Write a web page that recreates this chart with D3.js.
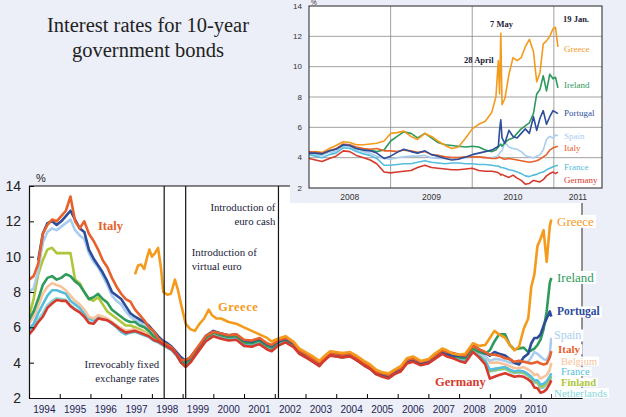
<!DOCTYPE html>
<html>
<head>
<meta charset="utf-8">
<style>
  body { margin: 0; background: #eceef8; }
  svg { display: block; }
  text { font-family: "Liberation Serif", "Times New Roman", serif; }
  .num { font-family: "Liberation Sans", Arial, sans-serif; }
</style>
</head>
<body>
<svg id="chart"></svg>
<script src="https://d3js.org/d3.v7.min.js"></script>
<script>

  // ---- data: main chart (1994-2010) ----
  var earlyYears = [1994.0, 1994.15, 1994.3, 1994.45, 1994.6, 1994.75, 1994.9,
    1995.05, 1995.2, 1995.35, 1995.5, 1995.65, 1995.8, 1995.95,
    1996.1, 1996.25, 1996.4, 1996.55, 1996.7, 1996.85,
    1997.0, 1997.15, 1997.3, 1997.45, 1997.6, 1997.75, 1997.9,
    1998.05, 1998.2, 1998.35, 1998.5, 1998.65, 1998.8, 1998.95];

  var euroYears = [1999.1, 1999.25, 1999.5, 1999.75, 2000.0, 2000.25, 2000.5, 2000.75,
    2001.0, 2001.25, 2001.5, 2001.75, 2001.9, 2002.1, 2002.35, 2002.6, 2002.8,
    2003.0, 2003.2, 2003.45, 2003.6, 2003.8, 2004.0, 2004.2, 2004.45, 2004.7, 2004.9,
    2005.1, 2005.3, 2005.5, 2005.7, 2005.9, 2006.1, 2006.3, 2006.5, 2006.75,
    2007.0, 2007.2, 2007.45, 2007.6, 2007.8];

  var lateYears = [2008.0, 2008.2, 2008.45, 2008.65, 2008.85, 2009.0, 2009.15, 2009.3,
    2009.5, 2009.65, 2009.8, 2009.95, 2010.1, 2010.25, 2010.35, 2010.45, 2010.55,
    2010.65, 2010.75, 2010.85, 2010.95, 2011.0];

  var germanyEarly = [5.6, 5.9, 6.3, 6.6, 7.1, 7.35, 7.55, 7.5, 7.5, 7.2, 7.0, 6.85, 6.6, 6.25,
    6.2, 6.5, 6.45, 6.4, 6.25, 6.05, 5.85, 5.7, 5.75, 5.8, 5.7, 5.6, 5.5,
    5.3, 5.2, 5.05, 4.9, 4.75, 4.45, 4.0];
  var italyEarly = [8.7, 8.9, 9.6, 11.3, 11.8, 12.1, 12.0, 12.3, 12.6, 13.4, 12.0, 11.6, 12.0, 11.3,
    10.9, 10.4, 9.8, 9.4, 8.8, 8.3, 7.9, 7.6, 7.45, 7.0, 6.7, 6.4, 6.0,
    5.8, 5.4, 5.15, 5.0, 4.85, 4.5, 4.15];
  var portugalEarly = [null, null, 9.8, 11.3, 11.9, 12.0, 11.8, 12.0, 12.3, 12.6, 12.1, 11.6, 11.4, 10.4,
    9.9, 9.5, 9.1, 8.6, 8.0, 7.8, 7.6, 7.2, 6.8, 6.6, 6.45, 6.3, 6.1,
    5.8, 5.5, 5.25, 5.1, 4.9, 4.6, 4.3];
  var spainEarly = [8.0, 8.2, 9.2, 10.8, 11.4, 11.6, 11.5, 11.7, 11.9, 12.1, 11.5, 11.2, 11.0, 10.2,
    9.7, 9.4, 8.9, 8.4, 7.8, 7.5, 7.3, 6.9, 6.6, 6.4, 6.3, 6.1, 5.9,
    5.6, 5.4, 5.15, 5.0, 4.8, 4.5, 4.15];
  var finlandEarly = [6.6, 7.6, 9.0, 9.8, 10.4, 10.5, 10.2, 10.2, 10.2, 10.2, 8.7, 8.5, 8.0, 7.6,
    7.5, 7.7, 7.3, 6.9, 6.7, 6.5, 6.3, 6.1, 6.1, 6.0, 5.9, 5.75, 5.6,
    5.35, 5.25, 5.1, 4.95, 4.8, 4.5, 4.05];
  var irelandEarly = [6.4, 6.9, 7.6, 8.4, 8.8, 8.9, 8.7, 8.8, 9.0, 8.9, 8.6, 8.4, 8.0, 7.6,
    7.7, 7.9, 7.6, 7.4, 7.0, 6.8, 6.6, 6.4, 6.3, 6.3, 6.1, 6.0, 5.8,
    5.5, 5.35, 5.15, 5.0, 4.85, 4.5, 4.05];
  var belgiumEarly = [6.2, 6.6, 7.2, 7.9, 8.3, 8.5, 8.4, 8.3, 8.1, 7.8, 7.5, 7.3, 7.0, 6.6,
    6.5, 6.7, 6.6, 6.5, 6.3, 6.1, 5.95, 5.8, 5.85, 5.9, 5.8, 5.7, 5.55,
    5.35, 5.25, 5.1, 4.95, 4.8, 4.5, 4.05];
  var franceEarly = [5.9, 6.2, 6.8, 7.3, 7.8, 8.1, 8.1, 8.0, 7.9, 7.5, 7.3, 7.1, 6.8, 6.5,
    6.4, 6.6, 6.5, 6.4, 6.2, 6.0, 5.75, 5.6, 5.7, 5.75, 5.65, 5.55, 5.45,
    5.25, 5.15, 5.0, 4.85, 4.7, 4.4, 4.0];
  var netherlandsEarly = [5.7, 6.0, 6.45, 6.8, 7.25, 7.5, 7.65, 7.6, 7.55, 7.25, 7.05, 6.9, 6.65, 6.3,
    6.25, 6.55, 6.5, 6.45, 6.3, 6.1, 5.9, 5.75, 5.8, 5.85, 5.75, 5.65, 5.55,
    5.35, 5.25, 5.1, 4.95, 4.8, 4.5, 4.05];

  var germanyEuro = [3.75, 4.0, 4.6, 5.2, 5.5, 5.35, 5.25, 5.3, 4.95, 4.9, 5.05, 4.75, 4.65, 4.95, 5.15,
    4.9, 4.5, 4.3, 4.1, 3.8, 4.1, 4.4, 4.35, 4.3, 4.35, 4.1, 3.85, 3.65, 3.35, 3.2,
    3.1, 3.35, 3.5, 3.95, 4.05, 3.85, 3.95, 4.2, 4.5, 4.35, 4.25];
  var italyEuro = [4.15, 4.3, 4.9, 5.5, 5.75, 5.65, 5.55, 5.6, 5.3, 5.25, 5.4, 5.1, 5.0, 5.25, 5.4,
    5.15, 4.7, 4.5, 4.25, 4.0, 4.25, 4.55, 4.5, 4.45, 4.5, 4.25, 4.0, 3.8, 3.5, 3.4,
    3.3, 3.55, 3.7, 4.15, 4.25, 4.05, 4.15, 4.4, 4.7, 4.6, 4.55];
  var portugalEuro = [4.1, 4.3, 4.85, 5.5, 5.8, 5.65, 5.55, 5.6, 5.25, 5.2, 5.35, 5.05, 4.95, 5.2, 5.35,
    5.1, 4.65, 4.45, 4.2, 3.9, 4.2, 4.5, 4.45, 4.4, 4.45, 4.2, 3.95, 3.75, 3.45, 3.3,
    3.2, 3.45, 3.6, 4.05, 4.15, 3.95, 4.05, 4.3, 4.6, 4.5, 4.4];
  var spainEuro = [4.0, 4.2, 4.8, 5.45, 5.7, 5.6, 5.5, 5.55, 5.2, 5.15, 5.3, 5.0, 4.9, 5.15, 5.3,
    5.05, 4.6, 4.4, 4.15, 3.85, 4.15, 4.45, 4.4, 4.35, 4.4, 4.15, 3.9, 3.7, 3.4, 3.25,
    3.15, 3.4, 3.55, 4.0, 4.1, 3.9, 4.0, 4.25, 4.55, 4.45, 4.35];
  var irelandEuro = [3.95, 4.15, 4.75, 5.4, 5.7, 5.55, 5.45, 5.5, 5.15, 5.1, 5.25, 4.95, 4.85, 5.15, 5.3,
    5.05, 4.6, 4.35, 4.1, 3.85, 4.15, 4.45, 4.35, 4.3, 4.4, 4.1, 3.85, 3.65, 3.35, 3.25,
    3.15, 3.4, 3.55, 4.0, 4.1, 3.9, 4.0, 4.25, 4.55, 4.45, 4.35];
  var belgiumEuro = [3.95, 4.15, 4.75, 5.4, 5.7, 5.55, 5.45, 5.5, 5.15, 5.1, 5.25, 4.95, 4.85, 5.15, 5.3,
    5.05, 4.6, 4.4, 4.15, 3.85, 4.15, 4.45, 4.4, 4.35, 4.4, 4.15, 3.9, 3.7, 3.4, 3.25,
    3.15, 3.4, 3.55, 4.0, 4.1, 3.9, 4.0, 4.25, 4.55, 4.45, 4.35];
  var franceEuro = [3.85, 4.1, 4.7, 5.3, 5.6, 5.45, 5.35, 5.4, 5.05, 5.0, 5.15, 4.85, 4.75, 5.05, 5.25,
    5.0, 4.55, 4.35, 4.15, 3.85, 4.15, 4.45, 4.4, 4.35, 4.4, 4.15, 3.9, 3.7, 3.4, 3.25,
    3.15, 3.4, 3.55, 4.0, 4.1, 3.9, 4.0, 4.25, 4.55, 4.4, 4.3];
  var finlandEuro = [3.9, 4.1, 4.7, 5.35, 5.65, 5.5, 5.4, 5.45, 5.1, 5.05, 5.2, 4.9, 4.8, 5.1, 5.25,
    5.0, 4.55, 4.35, 4.15, 3.85, 4.15, 4.45, 4.4, 4.35, 4.4, 4.15, 3.9, 3.7, 3.4, 3.25,
    3.15, 3.4, 3.55, 4.0, 4.1, 3.9, 4.0, 4.25, 4.55, 4.4, 4.3];
  var netherlandsEuro = [3.85, 4.05, 4.65, 5.3, 5.6, 5.45, 5.35, 5.4, 5.05, 5.0, 5.15, 4.85, 4.75, 5.05, 5.25,
    4.95, 4.55, 4.35, 4.15, 3.85, 4.15, 4.45, 4.4, 4.35, 4.4, 4.15, 3.9, 3.7, 3.4, 3.25,
    3.15, 3.4, 3.55, 4.0, 4.1, 3.9, 4.0, 4.25, 4.55, 4.4, 4.3];

  // Greece joins the chart in 1997
  var greeceYears = [1997.45, 1997.55, 1997.65, 1997.75, 1997.85, 1997.92, 1998.0, 1998.1, 1998.2, 1998.3,
    1998.37, 1998.5, 1998.62, 1998.75, 1998.85, 1998.95, 1999.1, 1999.25, 1999.4, 1999.55,
    1999.7, 1999.85, 1999.95, 2000.1, 2000.25, 2000.5, 2000.75, 2001.0, 2001.25, 2001.5,
    2001.75, 2001.9, 2002.1, 2002.35, 2002.6, 2002.8, 2003.0, 2003.2, 2003.45, 2003.6,
    2003.8, 2004.0, 2004.2, 2004.45, 2004.7, 2004.9, 2005.1, 2005.3, 2005.5, 2005.7,
    2005.9, 2006.1, 2006.3, 2006.5, 2006.75, 2007.0, 2007.2, 2007.45, 2007.6, 2007.8];
  var greeceEarly = [9.0, 9.5, 9.55, 9.3, 10.0, 10.4, 10.0, 10.2, 10.5, 9.3,
    8.0, 7.85, 7.9, 8.7, 8.1, 7.3, 6.2, 5.9, 5.8, 6.2,
    6.5, 7.0, 6.7, 6.5, 6.5, 6.3, 6.2, 6.0, 5.8, 5.6,
    5.4, 5.2, 5.35, 5.5, 5.2, 4.8, 4.6, 4.4, 4.1, 4.35,
    4.65, 4.6, 4.55, 4.6, 4.35, 4.1, 3.9, 3.6, 3.45, 3.4,
    3.6, 3.8, 4.25, 4.35, 4.1, 4.2, 4.5, 4.8, 4.7, 4.5];

  var greeceLate = [4.45, 4.5, 5.1, 4.95, 5.0, 5.4, 5.8, 5.6, 5.4, 5.0, 4.7, 4.9, 5.9, 6.5, 8.3,
    9.0, 10.6, 11.0, 11.5, 9.7, 11.7, 12.1];
  var irelandLate = [4.3, 4.25, 4.8, 4.6, 4.5, 4.7, 5.2, 5.6, 5.6, 5.0, 4.75, 4.8, 4.85, 4.6, 4.7,
    4.8, 5.0, 5.3, 5.9, 6.9, 8.5, 8.8];
  var portugalLate = [4.4, 4.35, 5.0, 4.75, 4.55, 4.4, 4.6, 4.5, 4.4, 4.2, 4.0, 3.9, 4.3, 4.5, 5.1,
    5.4, 5.4, 5.6, 6.1, 6.5, 6.9, 6.6];
  var spainLate = [4.3, 4.25, 4.85, 4.6, 4.35, 4.1, 4.2, 4.2, 4.1, 4.0, 3.95, 4.0, 4.05, 4.05, 4.3,
    4.6, 4.5, 4.35, 4.2, 4.15, 4.5, 5.4];
  var italyLate = [4.45, 4.4, 4.95, 4.75, 4.6, 4.45, 4.45, 4.4, 4.25, 4.2, 4.05, 4.1, 4.05, 4.0, 3.95,
    4.0, 4.05, 3.95, 3.9, 3.95, 4.3, 4.65];
  var belgiumLate = [4.35, 4.3, 4.8, 4.55, 4.4, 4.0, 4.0, 4.0, 3.9, 3.8, 3.7, 3.7, 3.75, 3.6, 3.5,
    3.3, 3.35, 3.1, 3.2, 3.3, 3.6, 4.0];
  var franceLate = [4.2, 4.1, 4.7, 4.4, 4.1, 3.6, 3.65, 3.7, 3.75, 3.6, 3.5, 3.55, 3.5, 3.35, 3.2,
    3.0, 3.0, 2.75, 2.8, 2.95, 3.2, 3.4];
  var finlandLate = [4.25, 4.15, 4.7, 4.45, 4.1, 3.55, 3.6, 3.65, 3.7, 3.55, 3.45, 3.5, 3.45, 3.3, 3.15,
    2.95, 2.9, 2.65, 2.7, 2.85, 3.1, 3.25];
  var netherlandsLate = [4.2, 4.1, 4.65, 4.4, 4.05, 3.5, 3.55, 3.6, 3.65, 3.5, 3.4, 3.45, 3.4, 3.25, 3.1,
    2.85, 2.85, 2.55, 2.6, 2.75, 3.0, 3.15];
  var germanyLate = [4.1, 4.0, 4.6, 4.3, 3.9, 3.1, 3.2, 3.3, 3.4, 3.3, 3.2, 3.25, 3.2, 3.05, 2.9,
    2.6, 2.55, 2.3, 2.35, 2.5, 2.8, 3.0];

  // ---- data: inset (2008 - 19 Jan. 2011) ----
  var insetYears = [2008.0, 2008.08, 2008.16, 2008.25, 2008.33, 2008.42, 2008.5, 2008.58, 2008.67, 2008.75,
    2008.83, 2008.92, 2009.0, 2009.08, 2009.16, 2009.25, 2009.33, 2009.42, 2009.5, 2009.58,
    2009.67, 2009.75, 2009.83, 2009.92, 2010.0, 2010.08, 2010.16, 2010.24, 2010.29, 2010.32,
    2010.335, 2010.35, 2010.365, 2010.4, 2010.45, 2010.5, 2010.55, 2010.6, 2010.65, 2010.7,
    2010.75, 2010.79, 2010.83, 2010.87, 2010.91, 2010.95, 2010.99, 2011.02, 2011.05];

  var greeceInset = [4.35, 4.4, 4.35, 4.6, 4.8, 5.05, 5.0, 4.85, 4.85, 4.9,
    4.95, 5.1, 5.6, 5.65, 5.75, 5.4, 5.2, 5.6, 5.4, 5.1,
    4.8, 4.6, 4.7, 5.3, 5.9, 6.2, 6.4, 7.0, 8.0, 10.4,
    8.2, 12.2, 7.5, 7.9, 9.5, 10.6, 10.4, 10.6, 11.3, 11.8,
    11.0, 9.0, 9.6, 11.5, 11.7, 12.0, 12.5, 12.6, 11.3];
  var irelandInset = [4.35, 4.3, 4.25, 4.45, 4.55, 4.85, 4.8, 4.6, 4.5, 4.5,
    4.4, 4.5, 5.1, 5.4, 5.7, 5.6, 5.3, 5.6, 5.3, 5.0,
    4.85, 4.8, 4.75, 4.7, 4.75, 4.7, 4.5, 4.4, 4.5, 4.7,
    4.8, 4.9, 4.75, 5.0, 5.2, 5.3, 5.6, 5.9, 6.1, 6.3,
    6.9, 8.2, 8.5, 9.4, 8.4, 9.5, 9.2, 9.3, 8.6];
  var portugalInset = [4.3, 4.3, 4.25, 4.45, 4.55, 4.85, 4.8, 4.6, 4.5, 4.45,
    4.3, 3.95, 4.1, 4.35, 4.55, 4.4, 4.3, 4.45, 4.2, 4.1,
    3.95, 3.85, 3.9, 4.05, 4.2, 4.3, 4.4, 4.5, 4.65, 4.75,
    5.8, 6.5, 5.3, 4.95, 5.8, 5.4, 5.3, 5.6, 5.9, 5.6,
    6.7, 5.8, 6.6, 7.1, 6.2, 6.7, 7.1, 7.0, 6.9];
  var spainInset = [4.3, 4.2, 4.15, 4.35, 4.4, 4.75, 4.7, 4.5, 4.4, 4.3,
    4.1, 3.95, 3.9, 4.0, 4.05, 4.1, 4.1, 4.15, 4.0, 3.95,
    3.95, 4.0, 4.0, 4.0, 4.05, 4.05, 4.0, 4.0, 4.05, 4.15,
    4.3, 4.4, 4.45, 5.0, 4.7, 4.6, 4.55, 4.4, 4.15, 4.05,
    4.0, 4.1, 4.2, 4.5, 5.2, 5.4, 5.3, 5.5, 5.45];
  var italyInset = [4.4, 4.35, 4.3, 4.45, 4.6, 4.9, 4.85, 4.7, 4.6, 4.55,
    4.6, 4.45, 4.45, 4.4, 4.5, 4.45, 4.35, 4.4, 4.2, 4.15,
    4.05, 4.0, 4.0, 4.05, 4.05, 4.05, 4.0, 3.95, 3.95, 4.0,
    4.05, 4.0, 3.95, 3.9, 3.95, 3.9, 3.85, 3.8, 3.75, 3.7,
    3.75, 3.8, 3.9, 4.05, 4.2, 4.5, 4.65, 4.7, 4.75];
  var franceInset = [4.2, 4.1, 4.0, 4.2, 4.3, 4.65, 4.6, 4.4, 4.25, 4.15,
    3.95, 3.5, 3.5, 3.55, 3.6, 3.6, 3.7, 3.8, 3.7, 3.65,
    3.6, 3.65, 3.65, 3.6, 3.6, 3.55, 3.55, 3.5, 3.45, 3.45,
    3.4, 3.35, 3.35, 3.3, 3.2, 3.15, 3.05, 2.95, 2.8, 2.75,
    2.85, 2.9, 3.0, 3.05, 3.2, 3.3, 3.4, 3.45, 3.5];
  var germanyInset = [3.95, 3.85, 3.75, 3.95, 4.1, 4.45, 4.4, 4.15, 4.0, 3.85,
    3.6, 3.05, 3.0, 3.05, 3.1, 3.15, 3.35, 3.5, 3.35, 3.3,
    3.25, 3.2, 3.2, 3.25, 3.3, 3.15, 3.1, 3.1, 3.05, 3.0,
    2.95, 2.85, 2.9, 2.8, 2.7, 2.85, 2.65, 2.5, 2.25, 2.3,
    2.5, 2.45, 2.4, 2.55, 2.8, 2.95, 3.05, 2.95, 3.05];

  var yTicks = [2, 4, 6, 8, 10, 12, 14];
  var yearTicks = d3.range(1994, 2011);
  var insetYearTicks = [2008, 2009, 2010, 2011];
  var eventYears = [1998.4, 1999.1, 2002.12];

  var colors = {
    Greece: "#f49a1c", Ireland: "#2e9a5c", Portugal: "#2c4d9c", Spain: "#a9cdef",
    Italy: "#e8602a", Belgium: "#f6c39c", France: "#55bedc", Finland: "#adc63a",
    Netherlands: "#86d6da", Germany: "#d63a2c"
  };

  function pairs(years, values) {
    return years.map(function(yr, i) { return {year: yr, value: values[i]}; })
      .filter(function(d) { return d.value != null; });
  }

  // drawing order: last is on top
  var mainSeries = [
    {name: "Netherlands", data: pairs(earlyYears, netherlandsEarly).concat(pairs(euroYears, netherlandsEuro), pairs(lateYears, netherlandsLate))},
    {name: "Finland", data: pairs(earlyYears, finlandEarly).concat(pairs(euroYears, finlandEuro), pairs(lateYears, finlandLate))},
    {name: "France", data: pairs(earlyYears, franceEarly).concat(pairs(euroYears, franceEuro), pairs(lateYears, franceLate))},
    {name: "Belgium", data: pairs(earlyYears, belgiumEarly).concat(pairs(euroYears, belgiumEuro), pairs(lateYears, belgiumLate))},
    {name: "Spain", data: pairs(earlyYears, spainEarly).concat(pairs(euroYears, spainEuro), pairs(lateYears, spainLate))},
    {name: "Ireland", data: pairs(earlyYears, irelandEarly).concat(pairs(euroYears, irelandEuro), pairs(lateYears, irelandLate))},
    {name: "Portugal", data: pairs(earlyYears, portugalEarly).concat(pairs(euroYears, portugalEuro), pairs(lateYears, portugalLate))},
    {name: "Italy", data: pairs(earlyYears, italyEarly).concat(pairs(euroYears, italyEuro), pairs(lateYears, italyLate))},
    {name: "Greece", data: pairs(greeceYears, greeceEarly).concat(pairs(lateYears, greeceLate))},
    {name: "Germany", data: pairs(earlyYears, germanyEarly).concat(pairs(euroYears, germanyEuro), pairs(lateYears, germanyLate))}
  ];

  var insetSeries = [
    {name: "Spain", data: pairs(insetYears, spainInset)},
    {name: "Ireland", data: pairs(insetYears, irelandInset)},
    {name: "Greece", data: pairs(insetYears, greeceInset)},
    {name: "Italy", data: pairs(insetYears, italyInset)},
    {name: "Portugal", data: pairs(insetYears, portugalInset)},
    {name: "France", data: pairs(insetYears, franceInset)},
    {name: "Germany", data: pairs(insetYears, germanyInset)}
  ];

  var svg = d3.select("#chart")
    .attr("width", 626)
    .attr("height", 417);

  // ---- title ----
  svg.append("text")
    .attr("x", 148).attr("y", 32)
    .attr("text-anchor", "middle")
    .attr("font-size", 20.5).attr("fill", "#222")
    .text("Interest rates for 10-year");
  svg.append("text")
    .attr("x", 148).attr("y", 57)
    .attr("text-anchor", "middle")
    .attr("font-size", 20.5).attr("fill", "#222")
    .text("government bonds");

  // ---- main chart ----
  var x = d3.scaleLinear().domain([1994, 2012]).range([29, 582]);
  var y = d3.scaleLinear().domain([2, 14]).range([398, 186]);

  svg.append("rect")
    .attr("x", x(1994)).attr("y", y(14))
    .attr("width", x(2012) - x(1994)).attr("height", y(2) - y(14))
    .attr("fill", "#fff");

  svg.append("clipPath").attr("id", "mainclip")
    .append("rect")
    .attr("x", x(1994)).attr("y", y(14))
    .attr("width", x(2012) - x(1994)).attr("height", y(2) - y(14));

  var line = d3.line()
    .x(function(d) { return x(d.year); })
    .y(function(d) { return y(d.value); });

  svg.append("g").attr("clip-path", "url(#mainclip)")
    .selectAll("path")
    .data(mainSeries)
    .enter().append("path")
    .attr("d", function(d) { return line(d.data); })
    .attr("fill", "none")
    .attr("stroke", function(d) { return colors[d.name]; })
    .attr("stroke-width", 2.6)
    .attr("stroke-linejoin", "round");

  // event lines
  svg.selectAll(".event")
    .data(eventYears)
    .enter().append("line")
    .attr("class", "event")
    .attr("x1", function(d) { return x(d); })
    .attr("x2", function(d) { return x(d); })
    .attr("y1", y(14)).attr("y2", y(2))
    .attr("stroke", "#111").attr("stroke-width", 1.2);

  // axes
  var yAxis = d3.axisLeft(y).tickValues(yTicks).tickSize(-5).tickSizeOuter(0).tickPadding(8);
  var gy = svg.append("g").attr("transform", "translate(" + x(1994) + ",0)").call(yAxis);
  gy.selectAll("text").attr("class", "num").attr("font-size", 14).attr("fill", "#222");
  gy.select(".domain").attr("stroke", "#111").attr("stroke-width", 1.2);

  var xAxis = d3.axisBottom(x).tickValues(d3.range(1994, 2012)).tickSize(-4).tickSizeOuter(0).tickFormat("");
  var gx = svg.append("g").attr("transform", "translate(0," + y(2) + ")").call(xAxis);
  gx.select(".domain").attr("stroke", "#111").attr("stroke-width", 1.2);

  svg.selectAll(".year")
    .data(yearTicks)
    .enter().append("text")
    .attr("class", "num")
    .attr("x", function(d) { return x(d + 0.5); })
    .attr("y", 413)
    .attr("text-anchor", "middle")
    .attr("font-size", 10).attr("fill", "#1e2451")
    .text(function(d) { return d; });

  svg.append("text").attr("class", "num")
    .attr("x", 36).attr("y", 182)
    .attr("font-size", 11).attr("fill", "#222")
    .text("%");

  // top frame and right frame
  svg.append("line")
    .attr("x1", x(1994)).attr("x2", 290)
    .attr("y1", y(14)).attr("y2", y(14))
    .attr("stroke", "#111").attr("stroke-width", 1.2);
  svg.append("line")
    .attr("x1", x(2012)).attr("x2", x(2012))
    .attr("y1", 203).attr("y2", y(2))
    .attr("stroke", "#777").attr("stroke-width", 1.6);

  // annotations
  function multiline(tx, ty, anchor, lines) {
    lines.forEach(function(s, i) {
      svg.append("text")
        .attr("x", tx).attr("y", ty + i * 14)
        .attr("text-anchor", anchor)
        .attr("font-size", 10.8).attr("fill", "#1c1c3a")
        .text(s);
    });
  }
  multiline(x(2002.12) - 3, 211, "end", ["Introduction of", "euro cash"]);
  multiline(x(1999.1) + 6, 256, "start", ["Introduction of", "virtual euro"]);
  multiline(x(1998.4) - 5, 368, "end", ["Irrevocably fixed", "exchange rates"]);

  svg.append("text").attr("x", 98).attr("y", 230)
    .attr("font-size", 12.5).attr("font-weight", "bold")
    .attr("fill", colors.Italy).text("Italy");
  svg.append("text").attr("x", 218).attr("y", 311)
    .attr("font-size", 12.5).attr("font-weight", "bold").attr("letter-spacing", 0.5)
    .attr("fill", colors.Greece).text("Greece");
  svg.append("text").attr("x", 435).attr("y", 386)
    .attr("font-size", 12.5).attr("font-weight", "bold")
    .attr("fill", colors.Germany).text("Germany");

  // end labels with white boxes
  var endLabels = [
    {name: "Greece", at: 12.0, x: 557, size: 13, weight: "normal"},
    {name: "Ireland", at: 8.83, x: 557, size: 13, weight: "normal"},
    {name: "Portugal", at: 6.9, x: 557, size: 11.5, weight: "bold"},
    {name: "Spain", at: 5.55, x: 554, size: 12, weight: "normal"},
    {name: "Italy", at: 4.75, x: 558, size: 11, weight: "bold"},
    {name: "Belgium", at: 4.1, x: 561, size: 10.5, weight: "normal"},
    {name: "France", at: 3.5, x: 561, size: 10.5, weight: "normal"},
    {name: "Finland", at: 2.9, x: 561, size: 10.5, weight: "bold"},
    {name: "Netherlands", at: 2.28, x: 554, size: 11, weight: "normal"}
  ];
  var lg = svg.append("g");
  endLabels.forEach(function(l) {
    var t = lg.append("text")
      .attr("x", l.x).attr("y", y(l.at))
      .attr("dy", "0.35em")
      .attr("font-size", l.size).attr("font-weight", l.weight)
      .attr("fill", colors[l.name])
      .text(l.name);
    var b = t.node().getBBox();
    lg.insert("rect", function() { return t.node(); })
      .attr("x", b.x - 2).attr("y", b.y + 1)
      .attr("width", b.width + 4).attr("height", b.height - 2)
      .attr("fill", "#fff");
  });

  // ---- inset ----
  var xi = d3.scaleLinear().domain([2008, 2011.59]).range([309, 602]);
  var yi = d3.scaleLinear().domain([2, 14]).range([188, 6]);

  svg.append("rect")
    .attr("x", 290).attr("y", 0).attr("width", 336).attr("height", 203)
    .attr("fill", "#eceef8");
  svg.append("rect")
    .attr("x", xi(2008)).attr("y", yi(14))
    .attr("width", xi(2011.59) - xi(2008)).attr("height", yi(2) - yi(14))
    .attr("fill", "#fff");

  svg.selectAll(".hgrid")
    .data(yTicks.slice(1, -1))
    .enter().append("line")
    .attr("x1", xi(2008)).attr("x2", xi(2011.59))
    .attr("y1", function(d) { return yi(d); })
    .attr("y2", function(d) { return yi(d); })
    .attr("stroke", "#8a8a8a").attr("stroke-width", 0.8);
  svg.selectAll(".vgrid")
    .data(insetYearTicks.slice(1))
    .enter().append("line")
    .attr("x1", function(d) { return xi(d); })
    .attr("x2", function(d) { return xi(d); })
    .attr("y1", yi(14)).attr("y2", yi(2))
    .attr("stroke", "#8a8a8a").attr("stroke-width", 0.8);

  svg.append("clipPath").attr("id", "insetclip")
    .append("rect")
    .attr("x", xi(2008)).attr("y", yi(14))
    .attr("width", xi(2011.59) - xi(2008)).attr("height", yi(2) - yi(14));

  var iline = d3.line()
    .x(function(d) { return xi(d.year); })
    .y(function(d) { return yi(d.value); });

  svg.append("g").attr("clip-path", "url(#insetclip)")
    .selectAll("path")
    .data(insetSeries)
    .enter().append("path")
    .attr("d", function(d) { return iline(d.data); })
    .attr("fill", "none")
    .attr("stroke", function(d) { return colors[d.name]; })
    .attr("stroke-width", 1.6)
    .attr("stroke-linejoin", "round");

  svg.append("rect")
    .attr("x", xi(2008)).attr("y", yi(14))
    .attr("width", xi(2011.59) - xi(2008)).attr("height", yi(2) - yi(14))
    .attr("fill", "none").attr("stroke", "#222").attr("stroke-width", 1);

  svg.selectAll(".iy")
    .data(yTicks)
    .enter().append("text")
    .attr("class", "num")
    .attr("x", 302).attr("y", function(d) { return yi(d); })
    .attr("dy", "0.35em").attr("text-anchor", "end")
    .attr("font-size", 8).attr("fill", "#333")
    .text(function(d) { return d; });
  svg.append("text").attr("class", "num")
    .attr("x", 311).attr("y", 5)
    .attr("font-size", 6.5).attr("fill", "#333").text("%");

  var insetLabelYears = [2008.5, 2009.5, 2010.5, (2011 + 2011.59) / 2];
  svg.selectAll(".ix")
    .data(insetYearTicks)
    .enter().append("text")
    .attr("class", "num")
    .attr("x", function(d, i) { return xi(insetLabelYears[i]); })
    .attr("y", 200)
    .attr("text-anchor", "middle")
    .attr("font-size", 8.5).attr("fill", "#333")
    .text(function(d) { return d; });

  var insetLabels = [
    {name: "Greece", at: 11.16}, {name: "Ireland", at: 8.79}, {name: "Portugal", at: 6.94},
    {name: "Spain", at: 5.43}, {name: "Italy", at: 4.64}, {name: "France", at: 3.38}, {name: "Germany", at: 2.53}
  ];
  svg.selectAll(".il")
    .data(insetLabels)
    .enter().append("text")
    .attr("x", 564)
    .attr("y", function(d) { return yi(d.at); })
    .attr("dy", "0.35em")
    .attr("font-size", 9)
    .attr("fill", function(d) { return colors[d.name]; })
    .text(function(d) { return d.name; });

  function note(tx, ty, s) {
    svg.append("text").attr("x", tx).attr("y", ty)
      .attr("font-size", 8.5).attr("font-weight", "bold").attr("fill", "#1c1c3a")
      .text(s);
  }
  note(490, 27, "7 May");
  note(464, 63, "28 April");
  note(563, 22, "19 Jan.");

</script>
</body>
</html>
